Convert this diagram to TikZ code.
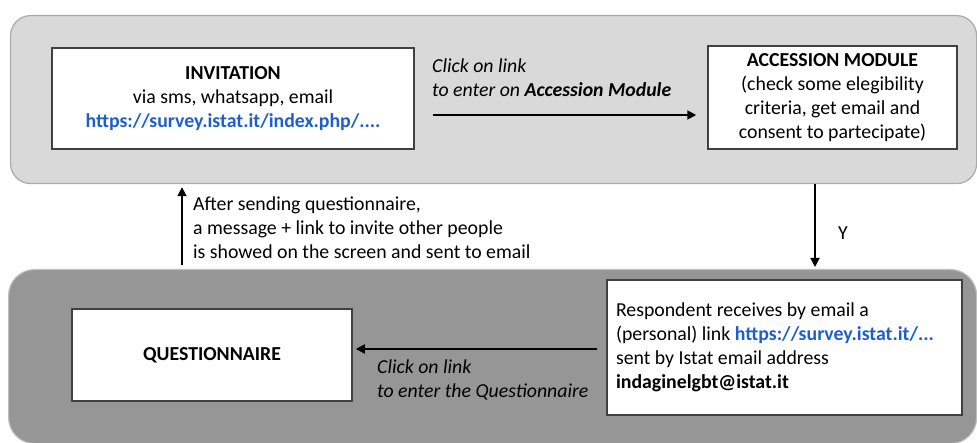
\documentclass[tikz,border=0pt]{standalone}
\usepackage{fontspec}
\setmainfont{Carlito}
\usetikzlibrary{arrows.meta}
\definecolor{lightpanel}{RGB}{217,217,217}
\definecolor{lightedge}{RGB}{170,170,170}
\definecolor{darkpanel}{RGB}{150,150,150}
\definecolor{darkedge}{RGB}{190,190,190}
\definecolor{boxedge}{RGB}{64,64,64}
\definecolor{linkblue}{RGB}{31,95,205}
\tikzset{
  panel/.style={rectangle, rounded corners=20pt, line width=1.2pt, inner sep=0pt, anchor=north west},
  stepbox/.style={rectangle, draw=boxedge, fill=white, line width=1.5pt, inner sep=0pt, align=center},
  arr/.style={line width=1.8pt, -{Triangle[length=9pt,width=9pt]}},
  lbl/.style={font=\fontsize{19.8}{24}\selectfont, align=left, anchor=west, inner sep=0pt},
}
\begin{document}
\begin{tikzpicture}[x=1pt,y=-1pt, every node/.style={font=\fontsize{19.8}{24}\selectfont}]
\useasboundingbox (0,0) rectangle (977,443);
\begin{scope}
\clip (0,0) rectangle (977,443);
\node[panel, fill=lightpanel, draw=lightedge, minimum width=966pt, minimum height=168pt] (top) at (10,15) {};
\node[panel, rounded corners=26pt, fill=darkpanel, draw=darkedge, minimum width=968pt, minimum height=174pt] (bot) at (8,269) {};
\end{scope}

\node[stepbox, minimum width=362pt, minimum height=101pt] (inv) at (233,98.5)
  {\textbf{INVITATION}\\via sms, whatsapp, email\\\textcolor{linkblue}{\textbf{https://survey.istat.it/index.php/....}}};
\node[stepbox, minimum width=249pt, minimum height=103pt] (acc) at (832.5,97.5)
  {\textbf{ACCESSION MODULE}\\(check some elegibility\\criteria, get email and\\consent to partecipate)};
\node[stepbox, minimum width=280pt, minimum height=92pt] (quest) at (212,355)
  {\textbf{QUESTIONNAIRE}};
\node[stepbox, minimum width=355pt, minimum height=135pt, text width=337pt, align=flush left] (resp) at (784.5,347.5)
  {Respondent receives by email a\\(personal) link \textcolor{linkblue}{\textbf{https://survey.istat.it/...}}\\sent by Istat email address\\\textbf{indaginelgbt@istat.it}};

\draw[arr] ([shift={(18,16.5)}]inv.east) -- ([shift={(-11,17.5)}]acc.west);
\node[lbl] (l1) at (432,77.5) {\textit{Click on link}\\\textit{to enter on \textbf{Accession Module}}};

\draw[arr, shorten >=2pt] ([xshift=-17.5pt]acc.south |- top.south) -- ([xshift=-17.5pt]acc.south |- bot.north);
\node[lbl] (ly) at (838,233) {Y};

\draw[arr, shorten <=4pt, shorten >=3pt] ([xshift=-51pt]inv.south |- bot.north) -- ([xshift=-51pt]inv.south |- top.south);
\node[lbl] (l2) at (193,228) {After sending questionnaire,\\a message + link to invite other people\\is showed on the screen and sent to email};

\draw[arr] ([shift={(-9,1.5)}]resp.west) -- ([shift={(3,-6)}]quest.east);
\node[lbl] (l3) at (377,380) {\textit{Click on link}\\\textit{to enter the Questionnaire}};
\end{tikzpicture}
\end{document}
